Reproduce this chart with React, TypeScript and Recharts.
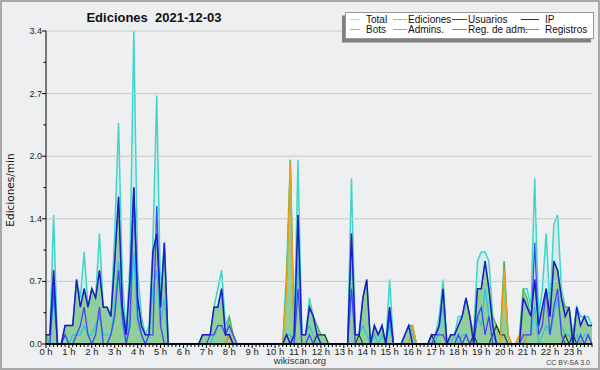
import React from "react";
import {
  ComposedChart,
  Area,
  Line,
  XAxis,
  YAxis,
  ReferenceLine,
} from "recharts";

// 10-minute slots, values are edits per minute
const total = [
  0.1, 0.1, 1.4, 0, 0, 0.2, 0.2, 0.2, 0.7, 0.5, 1.0, 0.4,
  0.6, 0.5, 1.2, 0.4, 0.4, 0.3, 1.2, 2.4, 0.7, 0.1, 0.9, 3.4,
  0.8, 0.3, 0.1, 0.2, 1.1, 2.7, 0.5, 1.1, 0, 0, 0, 0,
  0, 0, 0, 0, 0, 0.1, 0.1, 0.1, 0.4, 0.6, 0.8, 0.2,
  0.3, 0.1, 0, 0, 0, 0, 0, 0, 0, 0, 0, 0,
  0, 0, 0, 0.8, 2.0, 0.1, 2.0, 0.1, 0.1, 0.5, 0.3, 0.2,
  0.1, 0.1, 0, 0, 0, 0, 0, 0, 1.8, 0.1, 0.1, 0.5,
  0.7, 0, 0.2, 0.1, 0.2, 0, 0.7, 0, 0, 0, 0.1, 0.2,
  0.2, 0, 0, 0, 0, 0.1, 0.1, 0.3, 0.7, 0, 0.1, 0.1,
  0.3, 0.3, 0.5, 0.3, 0.1, 0.9, 1.0, 1.0, 0.9, 0.3, 0.2, 0.1,
  0.9, 0.1, 0, 0, 0.1, 0.6, 0.6, 0.4, 1.8, 0.3, 0.6, 1.2,
  0.4, 1.3, 1.4, 0.6, 0.4, 0.4, 0.1, 0.4, 0.3, 0.3, 0.3, 0.2,
];

const ediciones = [
  0.1, 0.1, 0.8, 0, 0, 0.2, 0.2, 0.2, 0.7, 0.4, 0.6, 0.4,
  0.6, 0.5, 0.8, 0.4, 0.4, 0.3, 0.9, 1.6, 0.4, 0.1, 0.7, 1.7,
  0.5, 0.2, 0.1, 0.1, 1.0, 1.2, 0.4, 1.1, 0, 0, 0, 0,
  0, 0, 0, 0, 0, 0.1, 0.1, 0.1, 0.4, 0.4, 0.6, 0.1,
  0.3, 0.1, 0, 0, 0, 0, 0, 0, 0, 0, 0, 0,
  0, 0, 0, 0.7, 2.0, 0.1, 1.4, 0.1, 0.1, 0.4, 0.3, 0.2,
  0.1, 0.1, 0, 0, 0, 0, 0, 0, 1.2, 0.1, 0.1, 0.5,
  0.7, 0, 0.2, 0.1, 0.2, 0, 0.4, 0, 0, 0, 0.1, 0.2,
  0.2, 0, 0, 0, 0, 0.1, 0.1, 0.2, 0.6, 0, 0.1, 0.1,
  0.2, 0.3, 0.5, 0.3, 0.1, 0.6, 0.6, 0.9, 0.6, 0.3, 0.2, 0.1,
  0.9, 0.1, 0, 0, 0.1, 0.6, 0.5, 0.3, 0.7, 0.2, 0.4, 0.6,
  0.3, 0.9, 0.8, 0.5, 0.4, 0.4, 0.1, 0.4, 0.2, 0.3, 0.2, 0.2,
];

const usuarios = [
  0.1, 0.1, 0.8, 0, 0, 0.2, 0.2, 0.2, 0.7, 0.4, 0.6, 0.4,
  0.6, 0.5, 0.8, 0.4, 0.4, 0.3, 0.9, 1.6, 0.4, 0.1, 0.7, 1.7,
  0.5, 0.2, 0.1, 0.1, 1.0, 1.2, 0.4, 1.1, 0, 0, 0, 0,
  0, 0, 0, 0, 0, 0.1, 0.1, 0.1, 0.4, 0.4, 0.6, 0.1,
  0.1, 0, 0, 0, 0, 0, 0, 0, 0, 0, 0, 0,
  0, 0, 0, 0.1, 0, 0.1, 1.4, 0.1, 0.1, 0.4, 0.3, 0.1,
  0, 0, 0, 0, 0, 0, 0, 0, 1.2, 0.1, 0.1, 0.5,
  0.7, 0, 0.2, 0.1, 0.2, 0, 0.4, 0, 0, 0, 0.1, 0.2,
  0, 0, 0, 0, 0, 0.1, 0.1, 0.2, 0.6, 0, 0.1, 0.1,
  0.2, 0.3, 0.5, 0.3, 0, 0.6, 0.6, 0.9, 0.6, 0.2, 0, 0,
  0, 0, 0, 0, 0, 0.5, 0.4, 0.3, 0.7, 0.2, 0.4, 0.6,
  0.3, 0.9, 0.8, 0.5, 0.3, 0.4, 0, 0.4, 0.2, 0.3, 0.2, 0.2,
];

const registros = [
  0, 0, 0.6, 0, 0, 0.1, 0, 0, 0.1, 0.2, 0.4, 0.1,
  0, 0.1, 0.4, 0, 0, 0.1, 0.3, 0.8, 0.3, 0, 0.2, 1.7,
  0.3, 0.1, 0, 0.1, 0.1, 1.5, 0.2, 0, 0, 0, 0, 0,
  0, 0, 0, 0, 0, 0, 0, 0.1, 0.1, 0.2, 0.2, 0.1,
  0.2, 0.1, 0, 0, 0, 0, 0, 0, 0, 0, 0, 0,
  0, 0, 0, 0, 0, 0, 0.6, 0, 0, 0.1, 0, 0,
  0, 0, 0, 0, 0, 0, 0, 0, 0.6, 0, 0, 0,
  0, 0, 0, 0, 0, 0, 0.3, 0, 0, 0, 0, 0,
  0, 0, 0, 0, 0, 0, 0.1, 0.1, 0.1, 0, 0, 0,
  0.1, 0, 0.1, 0, 0, 0.3, 0.4, 0.1, 0.3, 0, 0, 0,
  0, 0, 0, 0, 0, 0.1, 0.1, 0.1, 1.1, 0.1, 0.2, 0.6,
  0.1, 0.4, 0.6, 0.1, 0, 0, 0, 0, 0.1, 0, 0.1, 0,
];

const admins = [
  0.1, 0, 0.5, 0, 0, 0.1, 0, 0.1, 0.1, 0.1, 0.2, 0.1,
  0.1, 0.2, 0.3, 0.1, 0.1, 0.1, 0.4, 0.9, 0.2, 0, 0.3, 1.0,
  0.2, 0.1, 0, 0.1, 0.6, 0.8, 0.2, 0.5, 0, 0, 0, 0,
  0, 0, 0, 0, 0, 0, 0, 0, 0.1, 0.2, 0.2, 0.1,
  0.1, 0, 0, 0, 0, 0, 0, 0, 0, 0, 0, 0,
  0, 0, 0, 0.1, 0.1, 0, 0.9, 0.1, 0.1, 0.2, 0.1, 0,
  0, 0, 0, 0, 0, 0, 0, 0, 0.6, 0.1, 0.1, 0.2,
  0.1, 0, 0.1, 0, 0.1, 0, 0.2, 0, 0, 0, 0.1, 0.2,
  0.1, 0, 0, 0, 0, 0.1, 0, 0.2, 0.4, 0, 0, 0.1,
  0, 0.1, 0.1, 0, 0, 0.3, 0.2, 0.6, 0.3, 0.1, 0, 0,
  0, 0, 0, 0, 0, 0, 0.1, 0.1, 0.4, 0, 0.1, 0.2,
  0.1, 0.3, 0.5, 0.2, 0.1, 0.1, 0, 0.1, 0, 0.1, 0.1, 0,
];

const ip = [
  0, 0, 0, 0, 0, 0, 0, 0, 0, 0, 0, 0,
  0, 0, 0, 0, 0, 0, 0, 0, 0, 0, 0, 0,
  0, 0, 0, 0, 0, 0, 0, 0, 0, 0, 0, 0,
  0, 0, 0, 0, 0, 0, 0, 0, 0, 0, 0, 0,
  0.1, 0, 0, 0, 0, 0, 0, 0, 0, 0, 0, 0,
  0, 0, 0, 0, 0, 0, 0, 0, 0, 0, 0, 0.1,
  0.1, 0.1, 0, 0, 0, 0, 0, 0, 0, 0, 0.1, 0,
  0, 0, 0, 0, 0, 0, 0, 0, 0, 0, 0, 0,
  0, 0, 0, 0, 0, 0.1, 0, 0, 0, 0, 0, 0,
  0, 0, 0, 0, 0.1, 0, 0, 0, 0, 0.1, 0.2, 0.1,
  0.1, 0, 0, 0, 0, 0, 0, 0, 0, 0, 0, 0,
  0, 0, 0, 0, 0.1, 0, 0.1, 0, 0, 0, 0, 0,
];

const bots = [
  0, 0, 0, 0, 0, 0, 0, 0, 0, 0, 0, 0,
  0, 0, 0, 0, 0, 0, 0, 0, 0, 0, 0, 0,
  0, 0, 0, 0, 0, 0, 0, 0, 0, 0, 0, 0,
  0, 0, 0, 0, 0, 0, 0, 0, 0, 0, 0, 0,
  0.1, 0, 0, 0, 0, 0, 0, 0, 0, 0, 0, 0,
  0, 0, 0, 0.6, 1.95, 0, 0, 0, 0, 0, 0, 0,
  0, 0, 0, 0, 0, 0, 0, 0, 0, 0, 0, 0,
  0, 0, 0, 0, 0, 0, 0, 0, 0, 0, 0, 0,
  0.2, 0, 0, 0, 0, 0, 0, 0, 0, 0, 0, 0,
  0, 0, 0, 0, 0, 0, 0, 0, 0, 0, 0, 0,
  0.8, 0.1, 0, 0, 0.1, 0.1, 0, 0, 0, 0, 0, 0,
  0, 0, 0, 0, 0, 0, 0, 0, 0, 0, 0, 0,
];

const regAdm = [
  0, 0, 0, 0, 0, 0, 0, 0, 0, 0, 0, 0,
  0, 0, 0, 0, 0, 0, 0, 0, 0, 0, 0, 0,
  0, 0, 0, 0, 0, 0, 0, 0, 0, 0, 0, 0,
  0, 0, 0, 0, 0, 0, 0, 0, 0, 0, 0, 0,
  0, 0, 0, 0, 0, 0, 0, 0, 0, 0, 0, 0,
  0, 0, 0, 0, 0, 0, 0, 0, 0, 0, 0, 0,
  0, 0, 0, 0, 0, 0, 0, 0, 0, 0, 0, 0,
  0, 0, 0, 0, 0, 0, 0, 0, 0, 0, 0, 0,
  0, 0, 0, 0, 0, 0, 0, 0, 0, 0, 0, 0,
  0, 0, 0, 0, 0, 0, 0, 0, 0, 0, 0, 0,
  0, 0, 0, 0, 0, 0, 0, 0, 0, 0, 0, 0,
  0, 0, 0, 0, 0, 0, 0, 0, 0, 0, 0, 0,
];

const yTicks = [0, 0.34, 0.68, 1.02, 1.36, 1.7, 2.04, 2.38, 2.72, 3.06, 3.4];
const yGrid = [0.68, 1.36, 2.04, 2.72, 3.4];

const legendItems = [
  { name: "Total", color: "#9fe3da", x: 350, w: 10, tx: 366, row: 0 },
  { name: "Ediciones", color: "#86cc86", x: 393, w: 14, tx: 408, row: 0 },
  { name: "Usuarios", color: "#3434d8", x: 452, w: 15, tx: 468, row: 0 },
  { name: "IP", color: "#333333", x: 521, w: 18, tx: 545, row: 0 },
  { name: "Bots", color: "#f3a545", x: 350, w: 10, tx: 366, row: 1 },
  { name: "Admins.", color: "#4cc8dc", x: 393, w: 14, tx: 408, row: 1 },
  { name: "Reg. de adm.", color: "#d050e0", x: 452, w: 15, tx: 468, row: 1 },
  { name: "Registros", color: "#7f7ff0", x: 521, w: 18, tx: 545, row: 1 },
];

const data = total.map((t, i) => ({
  i,
  total: t,
  ediciones: ediciones[i],
  usuarios: usuarios[i],
  registros: registros[i],
  admins: admins[i],
  ip: ip[i],
  bots: bots[i],
  regAdm: regAdm[i],
}));
const xTicks = data.map((d) => d.i);

const FONT = "'Liberation Sans', Arial, sans-serif";

const XTick = (props: any) => {
  const { x, y, payload } = props;
  const v = payload.value as number;
  const major = v % 6 === 0;
  return (
    <g>
      <line x1={x} y1={y} x2={x} y2={y + (major ? 4 : 3)} stroke="#000" strokeWidth={1} />
      {major && (
        <text x={x} y={y + 10.5} textAnchor="middle" fontSize={9.5} fontFamily={FONT} fill="#222">
          {`${v / 6} h`}
        </text>
      )}
    </g>
  );
};

const YTick = (props: any) => {
  const { x, y, payload, index } = props;
  const major = index % 2 === 0;
  return (
    <g>
      <line x1={x - (major ? 4 : 2.5)} y1={y} x2={x} y2={y} stroke="#000" strokeWidth={1} />
      {major && (
        <text x={x - 4} y={y + 3} textAnchor="end" fontSize={9} fontFamily={FONT} fill="#222">
          {Number(payload.value).toFixed(1)}
        </text>
      )}
    </g>
  );
};

export default function App() {
  return (
    <div style={{ position: "relative", width: 600, height: 370, background: "#eeeff0" }}>
      <style>{`body{margin:0}`}</style>
      <div style={{ position: "absolute", left: 0, top: 0 }}>
        <ComposedChart
          width={600}
          height={370}
          data={data}
          margin={{ top: 31, right: 8, left: 8, bottom: 0 }}
        >
          {yGrid.map((v) => (
            <ReferenceLine key={v} y={v} stroke="#c9c9c9" strokeWidth={1} />
          ))}
          <Area
            type="linear"
            dataKey="total"
            stroke="#3fd6c8"
            strokeWidth={1.5}
            fill="#40e0d0"
            fillOpacity={0.15}
            isAnimationActive={false}
          />
          <Area
            type="linear"
            dataKey="ediciones"
            stroke="#4fb04f"
            strokeWidth={1}
            fill="#66bb66"
            fillOpacity={0.6}
            isAnimationActive={false}
          />
          <Line type="linear" dataKey="regAdm" stroke="#d040d0" strokeWidth={1} dot={false} isAnimationActive={false} />
          <Line type="linear" dataKey="admins" stroke="#2ec4e0" strokeWidth={1.3} dot={false} isAnimationActive={false} />
          <Line type="linear" dataKey="ip" stroke="#2b3b2b" strokeWidth={1.2} dot={false} isAnimationActive={false} />
          <Line type="linear" dataKey="bots" stroke="#f39c12" strokeWidth={1.5} dot={false} isAnimationActive={false} />
          <Line type="linear" dataKey="registros" stroke="#4646f5" strokeWidth={1.3} dot={false} isAnimationActive={false} />
          <Line type="linear" dataKey="usuarios" stroke="#1c1cc8" strokeWidth={1.5} dot={false} isAnimationActive={false} />
          {/* baseline drawn over the zero-valued series */}
          <ReferenceLine y={0} stroke="#000" strokeWidth={1.6} />
          <XAxis
            dataKey="i"
            type="number"
            domain={[0, 143]}
            ticks={xTicks}
            interval={0}
            height={26}
            tickSize={0}
            tickMargin={0}
            tickLine={false}
            axisLine={{ stroke: "#000", strokeWidth: 1 }}
            tick={<XTick />}
          />
          <YAxis
            type="number"
            domain={[0, 3.4]}
            ticks={yTicks}
            interval={0}
            width={38}
            tickSize={0}
            tickMargin={0}
            tickLine={false}
            axisLine={{ stroke: "#000", strokeWidth: 1 }}
            tick={<YTick />}
          />
        </ComposedChart>
      </div>
      <svg
        width={600}
        height={370}
        style={{ position: "absolute", left: 0, top: 0, pointerEvents: "none" }}
      >
        <rect x={1} y={1} width={598} height={368} fill="none" stroke="#a9a9a9" strokeWidth={2} />
        <text
          x={154}
          y={21.5}
          textAnchor="middle"
          fontSize={13}
          fontWeight="bold"
          fontFamily={FONT}
          fill="#111"
          style={{ whiteSpace: "pre" }}
        >
          {"Ediciones  2021-12-03"}
        </text>
        <text
          transform="translate(14,190) rotate(-90)"
          textAnchor="middle"
          fontSize={10.5}
          fontFamily="'DejaVu Sans', sans-serif"
          fill="#111"
        >
          Ediciones/min
        </text>
        <text x={300} y={364} textAnchor="middle" fontSize={9.5} fontFamily={FONT} fill="#333">
          wikiscan.org
        </text>
        <text x={590} y={365} textAnchor="end" fontSize={7} fontFamily={FONT} fill="#444">
          CC BY-SA 3.0
        </text>
        <rect x={342} y={15.5} width={249} height={27} fill="#808080" />
        <rect x={345.5} y={12.5} width={248} height={26} fill="#fff" stroke="#999" strokeWidth={1} />
        {legendItems.map((it) => {
          const cy = it.row === 0 ? 19.5 : 29.5;
          return (
            <g key={it.name}>
              <line x1={it.x} y1={cy} x2={it.x + it.w} y2={cy} stroke={it.color} strokeWidth={1} />
              <text x={it.tx} y={cy + 3.5} fontSize={10} fontFamily={FONT} fill="#111">
                {it.name}
              </text>
            </g>
          );
        })}
      </svg>
    </div>
  );
}
